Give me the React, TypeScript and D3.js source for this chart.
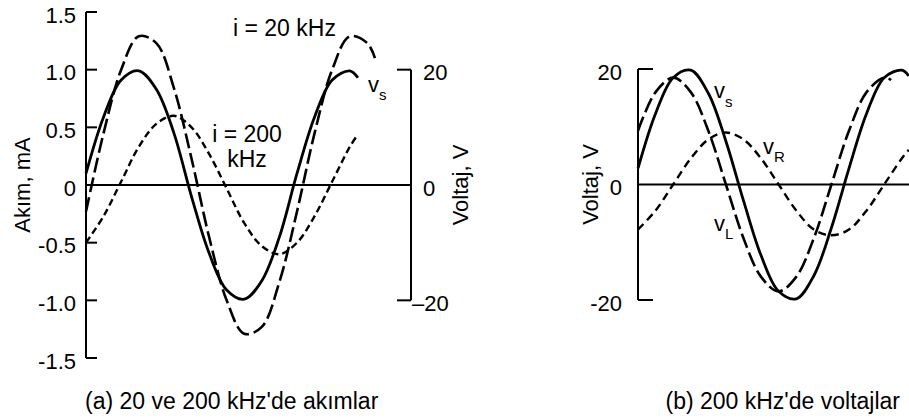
import React from 'react';
import * as d3 from 'd3';

// time axis is expressed as phase in degrees (one period = 360)
// (a) currents at 20 and 200 kHz, plus the source voltage (1.0 mA <-> 20 V)
const phaseVsA = [0, 30, 60, 90, 120, 150, 180, 210, 240, 270, 300, 330, 360, 390, 420, 450, 464];
const vsA = [0.1, 0.59, 0.91, 0.99, 0.83, 0.45, -0.1, -0.59, -0.91, -0.99, -0.83, -0.45, 0.1, 0.59, 0.91, 0.99, 0.93];

const phaseI20 = [0, 30, 60, 90, 120, 150, 180, 210, 240, 270, 300, 330, 360, 390, 420, 450, 480, 493];
const i20 = [-0.23, 0.45, 1.0, 1.29, 1.23, 0.84, 0.23, -0.45, -1.0, -1.29, -1.23, -0.84, -0.23, 0.45, 1.0, 1.29, 1.23, 1.1];

const phaseI200 = [0, 30, 60, 90, 120, 150, 180, 210, 240, 270, 300, 330, 360, 390, 420, 450, 464];
const i200 = [-0.5, -0.27, 0.03, 0.33, 0.53, 0.6, 0.5, 0.27, -0.03, -0.33, -0.53, -0.6, -0.5, -0.27, 0.03, 0.33, 0.44];

const currentTicks = [1.5, 1.0, 0.5, 0, -0.5, -1.0, -1.5];
const currentTickLabels = ['1.5', '1.0', '0.5', '0', '-0.5', '-1.0', '-1.5'];

// (b) voltages at 200 kHz
const phaseVsB = [0, 30, 60, 90, 120, 150, 180, 210, 240, 270, 300, 330, 360, 390, 420, 450, 462];
const vsB = [2.8, 12.3, 18.5, 19.8, 15.8, 7.5, -2.8, -12.3, -18.5, -19.8, -15.8, -7.5, 2.8, 12.3, 18.5, 19.8, 18.8];

const phaseVL = [0, 30, 60, 90, 120, 150, 180, 210, 240, 270, 300, 330, 360, 390, 420, 432];
const vL = [9.3, 16.0, 18.5, 16.0, 9.3, 0, -9.3, -16.0, -18.5, -16.0, -9.3, 0, 9.3, 16.0, 18.5, 18.1];

const phaseVR = [0, 30, 60, 90, 120, 150, 180, 210, 240, 270, 300, 330, 360, 390, 420, 450, 462];
const vR = [-7.8, -4.5, 0, 4.5, 7.8, 9.0, 7.8, 4.5, 0, -4.5, -7.8, -8.8, -7.8, -4.5, 0, 4.5, 6.0];

const voltTicks = [20, 0, -20];

const FONT = '"Liberation Sans", Arial, Helvetica, sans-serif';

const App = () => {
  const xA = d3.scaleLinear().domain([0, 360]).range([86, 297]);
  const yA = d3.scaleLinear().domain([-1.5, 1.5]).range([358, 12]);
  const yA2 = d3.scaleLinear().domain([-20, 20]).range([yA(-1), yA(1)]);

  const xB = d3.scaleLinear().domain([0, 360]).range([638, 849]);
  const yB = d3.scaleLinear().domain([-20, 20]).range([300, 69]);

  const lineA = (ph: number[], vals: number[]) =>
    d3.line<number>().x((_, i) => xA(ph[i])).y((d) => yA(d)).curve(d3.curveCatmullRom)(vals) || '';
  const lineB = (ph: number[], vals: number[]) =>
    d3.line<number>().x((_, i) => xB(ph[i])).y((d) => yB(d)).curve(d3.curveCatmullRom)(vals) || '';

  const axA = 86;
  const axA2 = 411;
  const axB = 638;

  const solid = { fill: 'none', stroke: '#000', strokeWidth: 2.8 };
  const longDash = { fill: 'none', stroke: '#000', strokeWidth: 2.6, strokeDasharray: '15,5' };
  const shortDash = { fill: 'none', stroke: '#000', strokeWidth: 2.4, strokeDasharray: '7,4' };

  return (
    <svg width={909} height={420} style={{ position: 'absolute', left: 0, top: 0, background: '#fff' }}
      fontFamily={FONT} fill="#000">
      {/* ---------- (a) ---------- */}
      <line x1={axA} x2={axA} y1={yA(1.5)} y2={yA(-1.5)} stroke="#000" strokeWidth={2} />
      {currentTicks.map((t, i) => (
        <g key={'ta' + i}>
          <line x1={axA} x2={axA + 11} y1={yA(t)} y2={yA(t)} stroke="#000" strokeWidth={2} />
          <text x={axA - 10} y={yA(t) + 3} textAnchor="end" dominantBaseline="central" fontSize={22}>
            {currentTickLabels[i]}
          </text>
        </g>
      ))}
      <text transform={`translate(22,${yA(0)}) rotate(-90)`} textAnchor="middle" dominantBaseline="central" fontSize={22}>
        Akım, mA
      </text>

      <line x1={axA} x2={axA2} y1={yA(0)} y2={yA(0)} stroke="#000" strokeWidth={2} />
      <line x1={axA2} x2={axA2} y1={yA2(20)} y2={yA2(-20)} stroke="#000" strokeWidth={2} />
      {voltTicks.map((t) => (
        <g key={'tv' + t}>
          {t !== 0 && <line x1={axA2 - 14} x2={axA2} y1={yA2(t)} y2={yA2(t)} stroke="#000" strokeWidth={2} />}
          <text x={t < 0 ? axA2 + 1 : axA2 + 12} y={yA2(t) + 3} textAnchor="start" dominantBaseline="central" fontSize={22}>
            {t < 0 ? '\u201320' : String(t)}
          </text>
        </g>
      ))}
      <text transform={`translate(460,${yA(0)}) rotate(-90)`} textAnchor="middle" dominantBaseline="central" fontSize={22}>
        Voltaj, V
      </text>

      <path d={lineA(phaseI200, i200)} {...shortDash} />
      <path d={lineA(phaseI20, i20)} {...longDash} />
      <path d={lineA(phaseVsA, vsA)} {...solid} />

      <text x={233} y={36} fontSize={23}>i = 20 kHz</text>
      <text x={247} y={142} fontSize={23} textAnchor="middle">i = 200</text>
      <text x={247} y={167} fontSize={23} textAnchor="middle">kHz</text>
      <text x={368} y={92} fontSize={22}>v<tspan fontSize={15} dy={8}>s</tspan></text>

      <text x={85} y={409} fontSize={23}>(a) 20 ve 200 kHz'de akımlar</text>

      {/* ---------- (b) ---------- */}
      <line x1={axB} x2={axB} y1={yB(20)} y2={yB(-20)} stroke="#000" strokeWidth={2} />
      {voltTicks.map((t) => (
        <g key={'tb' + t}>
          {t !== 0 && <line x1={axB} x2={axB + 15} y1={yB(t)} y2={yB(t)} stroke="#000" strokeWidth={2} />}
          <text x={622} y={yB(t) + 3} textAnchor="end" dominantBaseline="central" fontSize={22}>
            {String(t)}
          </text>
        </g>
      ))}
      <line x1={axB} x2={909} y1={yB(0)} y2={yB(0)} stroke="#000" strokeWidth={2} />
      <text transform={`translate(590,${yB(0)}) rotate(-90)`} textAnchor="middle" dominantBaseline="central" fontSize={22}>
        Voltaj, V
      </text>

      <path d={lineB(phaseVR, vR)} {...{ ...shortDash, strokeDasharray: '8,5' }} />
      <path d={lineB(phaseVL, vL)} {...longDash} />
      <path d={lineB(phaseVsB, vsB)} {...solid} />

      <text x={714} y={98} fontSize={22}>v<tspan fontSize={15} dy={9}>s</tspan></text>
      <text x={763} y={154} fontSize={22}>v<tspan fontSize={15} dy={8}>R</tspan></text>
      <text x={714} y={231} fontSize={22}>v<tspan fontSize={15} dy={8}>L</tspan></text>

      <text x={900} y={409} fontSize={23} textAnchor="end">(b) 200 kHz'de voltajlar</text>
    </svg>
  );
};

export default App;
